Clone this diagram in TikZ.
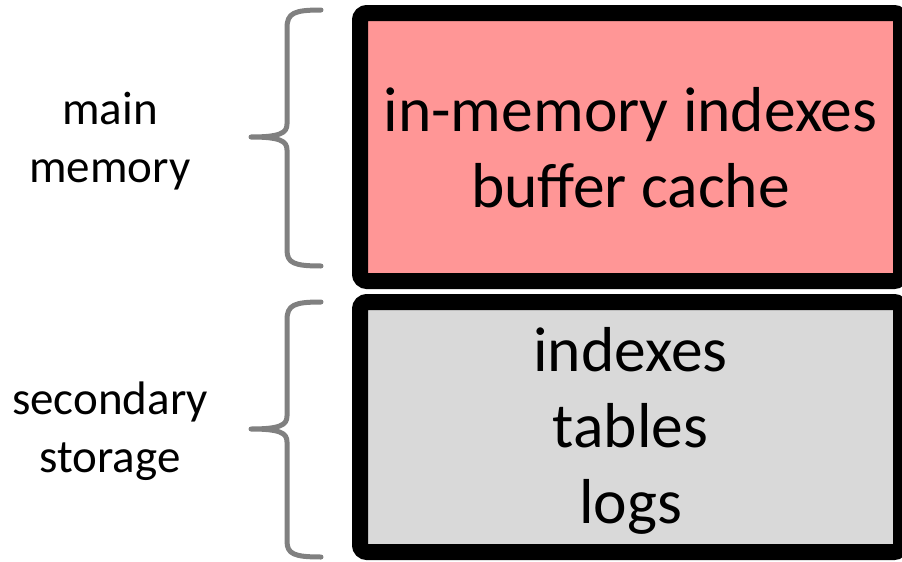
\documentclass[tikz,border=0pt]{standalone}
\usepackage{fontspec}
\setmainfont{Carlito}
\begin{document}
\begin{tikzpicture}[x=1pt,y=-1pt,
  brace/.style={draw=black!50, line width=5pt, line cap=round, line join=round},
  tier/.style={draw=black, line width=16pt, rounded corners=7pt, inner sep=0pt},
  tiertext/.style={align=center, inner sep=0pt, font=\fontsize{63.5}{76}\selectfont},
  sidelabel/.style={align=center, inner sep=0pt, font=\fontsize{47}{58}\selectfont}]
\useasboundingbox (0,0) rectangle (902,562);

% memory tiers
\node[tier, fill={rgb,255:red,255;green,150;blue,150}, minimum width=541pt, minimum height=268pt]
  (ram) at (630.5,147) {};
\node[tier, fill={rgb,255:red,217;green,217;blue,217}, minimum width=541pt, minimum height=250pt]
  (disk) at (630.5,427) {};
\node[tiertext] (ramtext) at (630.5,148) {in-memory indexes\\buffer cache};
\node[tiertext] (disktext) at (630.5,431) {indexes\\tables\\logs};

% braces
\coordinate (ramtip) at (251,137);
\coordinate (disktip) at (251,429);
\draw[brace] (321,10) .. controls (294,10) and (287,13) .. (287,28) -- (287,124)
  .. controls (287,133) and (280,137) .. (ramtip)
  .. controls (280,137) and (287,141) .. (287,150) -- (287,250)
  .. controls (287,263) and (294,266) .. (321,266);
\draw[brace] (321,302) .. controls (294,302) and (287,305) .. (287,320) -- (287,416)
  .. controls (287,425) and (280,429) .. (disktip)
  .. controls (280,429) and (287,433) .. (287,442) -- (287,541)
  .. controls (287,554) and (294,557) .. (321,557);

% labels
\node[sidelabel] (ramlabel) at (110,141) {main\\memory};
\node[sidelabel] (disklabel) at (110,431) {secondary\\storage};
\end{tikzpicture}
\end{document}
